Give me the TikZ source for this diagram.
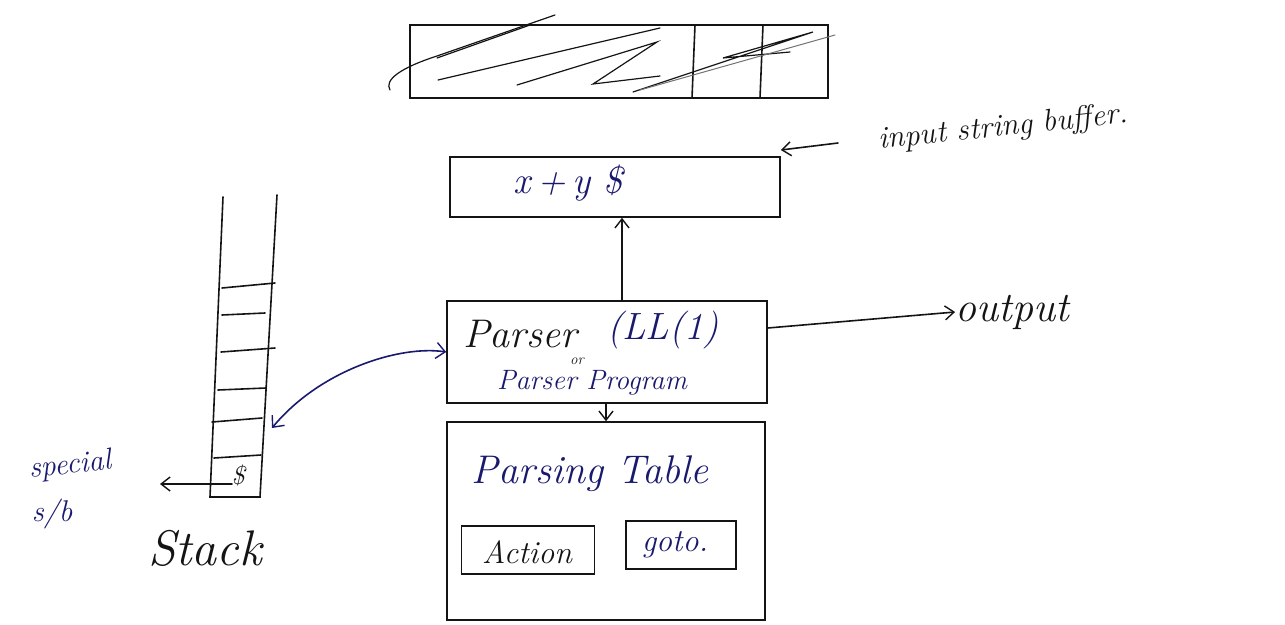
\documentclass[tikz,border=0pt]{standalone}
\usepackage{tikz}
\usetikzlibrary{arrows.meta}
\definecolor{ink}{RGB}{20,20,20}
\definecolor{pen}{RGB}{25,25,110}
\tikzset{
  box/.style={draw=ink, line width=1.6pt, inner sep=0pt},
  lbl/.style={inner sep=0pt, font=\itshape},
  ln/.style={draw=ink, line width=1.6pt, line cap=round},
  bln/.style={draw=pen, line width=1.6pt, line cap=round},
  arr/.style={-{Straight Barb[length=9pt,width=14pt,line width=1.4pt]}},
}
\begin{document}
\begin{tikzpicture}[x=1pt,y=-1pt]
\useasboundingbox (0,0) rectangle (1285,624);
% input string buffer
\node[box, minimum width=418, minimum height=73] (buf) at (619,61.5) {};
\draw[ln] (695,25) -- (692,98);
\draw[ln] (763,25) -- (760,98);
\draw[ln, line width=1.2pt] (390,90) .. controls (384,80) and (400,68) .. (437,56) -- (555,15);
\draw[ln, line width=1.2pt] (437,58) -- (530,25);
\draw[ln, line width=1.2pt] (438,80) -- (660,28);
\draw[ln, line width=1.2pt] (517,85) -- (657,42) -- (593,84) -- (660,76);
\draw[ln, line width=1.2pt] (633,92) -- (813,32) -- (723,58) -- (790,52);
\draw[ln, line width=1.0pt, draw=ink!60] (640,90) -- (835,35);
% input box
\node[box, minimum width=330, minimum height=60] (in) at (615,187) {};
\node[lbl, text=pen, font=\itshape\fontsize{38}{42}\selectfont] (intext) at (568,183) {x\,+\,y \$};
% label input string buffer
\node[lbl, text=ink, rotate=6, font=\itshape\fontsize{31}{36}\selectfont] (inlab) at (1003,128) {input string buffer.};
\coordinate (inlabw) at (838,143);
\draw[ln, arr] (inlabw) -- (in.north east |- 0,150);
% parser
\node[box, minimum width=320, minimum height=102] (par) at (607,352) {};
\node[lbl, text=ink, font=\itshape\fontsize{40}{44}\selectfont] (p1) at (520,334) {Parser};
\node[lbl, text=ink, font=\itshape\fontsize{15}{18}\selectfont] (p2) at (577,361) {or};
\node[lbl, text=pen, font=\itshape\fontsize{38}{42}\selectfont] (p3) at (663,330) {(LL(1)};
\node[lbl, text=pen, font=\itshape\fontsize{28}{32}\selectfont] (p4) at (592,383) {Parser Program};
\draw[ln, arr] (par.north -| 622,0) -- (in.south -| 622,0);
% output
\node[lbl, text=ink, font=\itshape\fontsize{42}{46}\selectfont] (out) at (1012,312) {output};
\draw[ln, arr] (par.east |- 0,328) -- (out.west);
% parsing table
\node[box, minimum width=318, minimum height=198] (tab) at (606,521) {};
\node[lbl, text=pen, font=\itshape\fontsize{40}{44}\selectfont] (tabt) at (590,474) {Parsing Table};
\node[box, minimum width=133, minimum height=48] (act) at (528,550) {};
\node[lbl, text=ink, font=\itshape\fontsize{32}{36}\selectfont] (actt) at (527,552) {Action};
\node[box, minimum width=110, minimum height=48] (got) at (681,545) {};
\node[lbl, text=pen, font=\itshape\fontsize{32}{36}\selectfont] (gott) at (675,545) {goto.};
\draw[ln, arr] (par.south -| 606,0) -- (tab.north -| 606,0);
% stack
\draw[ln] (223,197) -- (210,497) -- (260,497) -- (277,195);
\draw[ln] (222,288) -- (275,283);
\draw[ln] (222,315) -- (265,313);
\draw[ln] (221,352) -- (275,348);
\draw[ln] (218,390) -- (266,388);
\draw[ln] (212,422) -- (262,418);
\draw[ln] (214,458) -- (261,455);
\node[lbl, text=ink, font=\itshape\fontsize{26}{30}\selectfont] (dol) at (238,475) {\$};
\coordinate (stkr) at (272,428);
\coordinate (stkl) at (232,484);
\node[lbl, text=ink, font=\itshape\fontsize{50}{56}\selectfont] (stk) at (205,548) {Stack};
% special s/b
\node[lbl, text=pen, rotate=6, font=\itshape\fontsize{30}{34}\selectfont] (sp1) at (70,466) {special};
\node[lbl, text=pen, font=\itshape\fontsize{30}{34}\selectfont] (sp2) at (52,514) {s/b};
\coordinate (spe) at (160,484);
\draw[ln, arr] (stkl) -- (spe);
% double arrow parser <-> stack
\draw[bln, {Straight Barb[length=9pt,width=16pt,line width=1.4pt]}-{Straight Barb[length=9pt,width=16pt,line width=1.4pt]}] (stkr) .. controls (320,370) and (400,345) .. (par.west);
\end{tikzpicture}
\end{document}
